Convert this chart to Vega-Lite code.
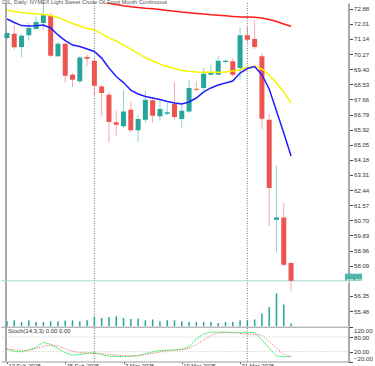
{
  "$schema": "https://vega.github.io/schema/vega-lite/v6.json",
  "width": 347.5,
  "height": 358.5,
  "padding": 0,
  "autosize": {"type": "pad"},
  "background": "white",
  "config": {"view": {"stroke": null}, "font": "Liberation Sans"},
  "title": {"text": "OIL, Daily:  NYMEX Light Sweet Crude Oil Front Month Continuous", "anchor": "start", "frame": "group", "orient": "top", "offset": -4, "fontSize": 5.6, "fontWeight": "normal", "color": "#555", "font": "Liberation Sans", "dx": 1},
  "datasets": {
    "bars": [
      {"i":0,"date":"2025-02-13","o":71.20,"h":71.60,"l":71.08,"c":71.48,"v":50000,"mb":72.29,"my":72.79,"mr":null,"k":32,"s":30},
      {"i":1,"date":"2025-02-14","o":71.44,"h":71.94,"l":70.50,"c":70.66,"v":60000,"mb":72.09,"my":72.72,"mr":null,"k":21,"s":28},
      {"i":2,"date":"2025-02-17","o":70.68,"h":71.42,"l":70.10,"c":71.33,"v":43000,"mb":71.91,"my":72.66,"mr":null,"k":20,"s":24},
      {"i":3,"date":"2025-02-18","o":71.35,"h":72.06,"l":71.04,"c":71.77,"v":60000,"mb":71.89,"my":72.62,"mr":null,"k":27,"s":26},
      {"i":4,"date":"2025-02-19","o":71.71,"h":72.44,"l":71.67,"c":72.12,"v":43000,"mb":71.90,"my":72.59,"mr":null,"k":38,"s":33},
      {"i":5,"date":"2025-02-20","o":72.06,"h":73.30,"l":71.67,"c":72.50,"v":43000,"mb":71.94,"my":72.55,"mr":null,"k":58,"s":42},
      {"i":6,"date":"2025-02-21","o":72.50,"h":72.63,"l":70.10,"c":70.18,"v":50000,"mb":71.77,"my":72.49,"mr":null,"k":50,"s":47},
      {"i":7,"date":"2025-02-24","o":70.14,"h":70.96,"l":70.10,"c":70.87,"v":50000,"mb":71.37,"my":72.38,"mr":null,"k":33,"s":43},
      {"i":8,"date":"2025-02-25","o":70.87,"h":70.94,"l":68.60,"c":69.02,"v":57000,"mb":71.05,"my":72.20,"mr":null,"k":16,"s":32},
      {"i":9,"date":"2025-02-26","o":69.08,"h":69.18,"l":68.37,"c":68.79,"v":60000,"mb":70.79,"my":72.03,"mr":null,"k":6,"s":22},
      {"i":10,"date":"2025-02-27","o":68.70,"h":70.16,"l":68.60,"c":70.08,"v":50000,"mb":70.71,"my":71.89,"mr":null,"k":9,"s":16},
      {"i":11,"date":"2025-02-28","o":70.10,"h":70.23,"l":69.58,"c":70.00,"v":60000,"mb":70.56,"my":71.74,"mr":null,"k":14,"s":14},
      {"i":12,"date":"2025-03-03","o":69.89,"h":69.99,"l":67.86,"c":68.45,"v":93000,"mb":70.42,"my":71.66,"mr":73.35,"k":16,"s":13},
      {"i":13,"date":"2025-03-04","o":68.41,"h":68.51,"l":66.72,"c":68.03,"v":83000,"mb":70.04,"my":71.43,"mr":73.27,"k":8,"s":12},
      {"i":14,"date":"2025-03-05","o":67.93,"h":68.09,"l":65.19,"c":66.36,"v":93000,"mb":69.47,"my":71.20,"mr":73.19,"k":2,"s":9},
      {"i":15,"date":"2025-03-06","o":66.34,"h":67.01,"l":65.54,"c":66.20,"v":100000,"mb":68.98,"my":71.02,"mr":73.12,"k":0,"s":6},
      {"i":16,"date":"2025-03-07","o":66.11,"h":68.18,"l":66.01,"c":66.97,"v":83000,"mb":68.63,"my":70.79,"mr":73.05,"k":0,"s":3},
      {"i":17,"date":"2025-03-10","o":67.07,"h":67.55,"l":65.78,"c":65.88,"v":73000,"mb":68.20,"my":70.56,"mr":72.99,"k":1,"s":3},
      {"i":18,"date":"2025-03-11","o":65.88,"h":66.76,"l":65.21,"c":66.53,"v":77000,"mb":67.97,"my":70.30,"mr":72.95,"k":4,"s":5},
      {"i":19,"date":"2025-03-12","o":66.49,"h":68.14,"l":66.30,"c":67.64,"v":60000,"mb":67.83,"my":70.07,"mr":72.91,"k":12,"s":8},
      {"i":20,"date":"2025-03-13","o":67.61,"h":67.74,"l":66.30,"c":66.72,"v":67000,"mb":67.74,"my":69.87,"mr":72.88,"k":19,"s":13},
      {"i":21,"date":"2025-03-14","o":66.69,"h":67.64,"l":66.47,"c":67.11,"v":50000,"mb":67.65,"my":69.70,"mr":72.83,"k":25,"s":19},
      {"i":22,"date":"2025-03-17","o":66.84,"h":67.45,"l":66.76,"c":66.92,"v":60000,"mb":67.54,"my":69.55,"mr":72.78,"k":26,"s":24},
      {"i":23,"date":"2025-03-18","o":67.41,"h":68.66,"l":66.47,"c":66.65,"v":60000,"mb":67.45,"my":69.44,"mr":72.74,"k":27,"s":26},
      {"i":24,"date":"2025-03-19","o":66.53,"h":67.36,"l":66.03,"c":67.01,"v":50000,"mb":67.40,"my":69.32,"mr":72.69,"k":30,"s":28},
      {"i":25,"date":"2025-03-20","o":66.97,"h":68.78,"l":66.88,"c":68.32,"v":43000,"mb":67.51,"my":69.28,"mr":72.65,"k":40,"s":33},
      {"i":26,"date":"2025-03-21","o":68.28,"h":68.70,"l":68.14,"c":68.22,"v":43000,"mb":67.74,"my":69.24,"mr":72.61,"k":72,"s":50},
      {"i":27,"date":"2025-03-24","o":68.32,"h":69.47,"l":68.20,"c":69.14,"v":43000,"mb":68.09,"my":69.22,"mr":72.57,"k":92,"s":68},
      {"i":28,"date":"2025-03-25","o":69.08,"h":69.66,"l":69.06,"c":69.18,"v":43000,"mb":68.32,"my":69.22,"mr":72.53,"k":100,"s":88},
      {"i":29,"date":"2025-03-26","o":69.08,"h":70.18,"l":69.06,"c":69.89,"v":33000,"mb":68.49,"my":69.22,"mr":72.50,"k":100,"s":97},
      {"i":30,"date":"2025-03-27","o":69.81,"h":69.96,"l":69.76,"c":69.89,"v":43000,"mb":68.60,"my":69.24,"mr":72.47,"k":100,"s":98},
      {"i":31,"date":"2025-03-28","o":69.85,"h":70.04,"l":68.98,"c":69.08,"v":43000,"mb":68.72,"my":69.30,"mr":72.44,"k":99,"s":97},
      {"i":32,"date":"2025-03-31","o":69.47,"h":71.81,"l":68.79,"c":71.35,"v":60000,"mb":69.18,"my":69.37,"mr":72.40,"k":99,"s":95},
      {"i":33,"date":"2025-04-01","o":71.35,"h":71.87,"l":70.96,"c":71.10,"v":60000,"mb":69.44,"my":69.50,"mr":72.40,"k":99,"s":92},
      {"i":34,"date":"2025-04-02","o":71.14,"h":72.21,"l":70.56,"c":70.68,"v":67000,"mb":69.55,"my":69.57,"mr":72.39,"k":98,"s":91},
      {"i":35,"date":"2025-04-03","o":70.14,"h":70.33,"l":65.96,"c":66.55,"v":127000,"mb":69.07,"my":69.41,"mr":72.35,"k":68,"s":88},
      {"i":36,"date":"2025-04-04","o":66.49,"h":66.82,"l":60.39,"c":62.56,"v":193000,"mb":68.26,"my":69.07,"mr":72.26,"k":35,"s":62},
      {"i":37,"date":"2025-04-07","o":60.73,"h":63.84,"l":58.86,"c":60.87,"v":327000,"mb":66.99,"my":68.60,"mr":72.14,"k":2,"s":35},
      {"i":38,"date":"2025-04-08","o":60.87,"h":61.70,"l":58.07,"c":58.14,"v":217000,"mb":65.73,"my":68.09,"mr":72.00,"k":0,"s":10},
      {"i":39,"date":"2025-04-09","o":58.24,"h":58.30,"l":56.61,"c":57.22,"v":27000,"mb":64.40,"my":67.45,"mr":71.87,"k":0,"s":0}
    ],
    "months": [{"i": 12, "month": "2025-03"}, {"i": 33, "month": "2025-04"}],
    "bid": [{"price": 57.22, "label": "57.22"}],
    "levels": [{"lvl": 80}, {"lvl": 20}],
    "stochInfo": [{"t": "Stoch(14,3,3) 0.00 0.00", "top": 120}]
  },
  "data": {"name": "bars"},
  "layer": [
    {
      "mark": {"type": "rule", "strokeWidth": 1, "opacity": 0.5, "clip": true},
      "encoding": {
        "x": {"field": "i", "type": "quantitative", "axis": {"values": [0, 8, 16, 24, 32], "labelExpr": "datum.value == 0 ? '13 Feb 2025' : datum.value == 8 ? '25 Feb 2025' : datum.value == 16 ? '7 Mar 2025' : datum.value == 24 ? '19 Mar 2025' : '31 Mar 2025'", "title": null, "grid": false, "domainColor": "#999", "domainWidth": 1, "tickColor": "#666", "tickSize": 2, "labelAlign": "left", "labelBaseline": "top", "labelPadding": -1, "labelOffset": 1, "labelFontSize": 5.8, "labelColor": "#333", "labelFlush": false, "labelOverlap": false}, "scale": {"domain": [-0.1333, 46.2], "nice": false, "zero": false}},
        "y": {"field": "l", "type": "quantitative", "scale": {"domain": [54.6, 73.21], "range": [323.3, 0], "nice": false, "zero": false}, "axis": {"orient": "right", "values": [72.88, 72.01, 71.14, 70.27, 69.40, 68.53, 67.66, 66.79, 65.92, 65.05, 64.18, 63.31, 62.44, 61.57, 60.70, 59.83, 58.96, 58.09, 56.35, 55.48], "format": ".2f", "title": null, "grid": false, "domainColor": "#a9a9a9", "domainWidth": 2, "tickColor": "#444", "tickSize": 4, "labelPadding": 1, "labelFontSize": 6.1, "labelColor": "#333", "labelOverlap": false, "labelFlush": false}},
        "y2": {"field": "h"},
        "color": {"condition": {"test": "datum.c >= datum.o", "value": "#26a69a"}, "value": "#ef5350"}
      }
    },
    {
      "data": {"name": "stochInfo"},
      "mark": {"type": "rule", "color": "#a9a9a9", "strokeWidth": 2},
      "encoding": {"x": {"datum": -0.1333}}
    },
    {
      "data": {"name": "months"},
      "mark": {"type": "rule", "color": "#777", "strokeWidth": 1, "strokeDash": [1, 1.5]},
      "encoding": {"x": {"field": "i", "type": "quantitative", "scale": {"domain": [-0.1333, 46.2], "nice": false, "zero": false}}}
    },
    {
      "data": {"name": "bid"},
      "mark": {"type": "rule", "color": "#9fdad3", "strokeWidth": 1},
      "encoding": {"y": {"field": "price", "type": "quantitative", "axis": null, "scale": {"domain": [54.6, 73.21], "range": [323.3, 0], "nice": false, "zero": false}}}
    },
    {
      "mark": {"type": "bar", "orient": "vertical", "size": 5, "clip": true},
      "encoding": {
        "x": {"field": "i", "type": "quantitative", "scale": {"domain": [-0.1333, 46.2], "nice": false, "zero": false}},
        "y": {"field": "o", "type": "quantitative", "axis": null, "scale": {"domain": [54.6, 73.21], "range": [323.3, 0], "nice": false, "zero": false}},
        "y2": {"field": "c"},
        "color": {"condition": {"test": "datum.c >= datum.o", "value": "#26a69a"}, "value": "#ef5350"}
      }
    },
    {
      "mark": {"type": "line", "color": "#ff1a1a", "strokeWidth": 1.5, "clip": true},
      "encoding": {
        "x": {"field": "i", "type": "quantitative", "scale": {"domain": [-0.1333, 46.2], "nice": false, "zero": false}},
        "y": {"field": "mr", "type": "quantitative", "axis": null, "scale": {"domain": [54.6, 73.21], "range": [323.3, 0], "nice": false, "zero": false}}
      }
    },
    {
      "mark": {"type": "line", "color": "#f5f500", "strokeWidth": 1.5, "clip": true},
      "encoding": {
        "x": {"field": "i", "type": "quantitative", "scale": {"domain": [-0.1333, 46.2], "nice": false, "zero": false}},
        "y": {"field": "my", "type": "quantitative", "axis": null, "scale": {"domain": [54.6, 73.21], "range": [323.3, 0], "nice": false, "zero": false}}
      }
    },
    {
      "mark": {"type": "line", "color": "#1f1fff", "strokeWidth": 1.5, "clip": true},
      "encoding": {
        "x": {"field": "i", "type": "quantitative", "scale": {"domain": [-0.1333, 46.2], "nice": false, "zero": false}},
        "y": {"field": "mb", "type": "quantitative", "axis": null, "scale": {"domain": [54.6, 73.21], "range": [323.3, 0], "nice": false, "zero": false}}
      }
    },
    {
      "mark": {"type": "bar", "orient": "vertical", "size": 1.5, "color": "#26a69a", "clip": true},
      "encoding": {
        "x": {"field": "i", "type": "quantitative", "scale": {"domain": [-0.1333, 46.2], "nice": false, "zero": false}},
        "y": {"field": "v", "type": "quantitative", "axis": null, "scale": {"domain": [0, 3233000], "range": [323.3, 0], "nice": false, "zero": true}}
      }
    },
    {
      "data": {"name": "bid"},
      "mark": {"type": "bar", "orient": "horizontal", "size": 7, "color": "#4fb5aa"},
      "encoding": {
        "x": {"datum": 46.4},
        "x2": {"datum": 48.75},
        "y": {"field": "price", "type": "quantitative", "axis": null, "scale": {"domain": [54.6, 73.21], "range": [323.3, 0], "nice": false, "zero": false}}
      }
    },
    {
      "data": {"name": "bid"},
      "mark": {"type": "text", "align": "left", "baseline": "middle", "fontSize": 6.1, "color": "white", "dx": 1.5},
      "encoding": {
        "x": {"datum": 46.4},
        "y": {"field": "price", "type": "quantitative", "axis": null, "scale": {"domain": [54.6, 73.21], "range": [323.3, 0], "nice": false, "zero": false}},
        "text": {"field": "label"}
      }
    },
    {
      "data": {"name": "stochInfo"},
      "mark": {"type": "rule", "color": "#999", "strokeWidth": 1},
      "encoding": {
        "y": {"field": "top", "type": "quantitative", "scale": {"domain": [-20, 120], "range": [358.5, 324.2], "nice": false, "zero": false}, "axis": {"orient": "right", "values": [120, 80, 20, -20], "format": ".2f", "title": null, "grid": false, "domainColor": "#a9a9a9", "domainWidth": 2, "tickColor": "#444", "tickSize": 4, "labelPadding": 1, "labelFontSize": 6.1, "labelColor": "#333", "labelFlush": true, "labelOverlap": false}}
      }
    },
    {
      "data": {"name": "levels"},
      "mark": {"type": "rule", "color": "#bbb", "strokeWidth": 1, "strokeDash": [1, 2]},
      "encoding": {"y": {"field": "lvl", "type": "quantitative", "axis": null, "scale": {"domain": [-20, 120], "range": [358.5, 324.2], "nice": false, "zero": false}}}
    },
    {
      "mark": {"type": "line", "color": "#66f28f", "strokeWidth": 1},
      "encoding": {
        "x": {"field": "i", "type": "quantitative", "scale": {"domain": [-0.1333, 46.2], "nice": false, "zero": false}},
        "y": {"field": "k", "type": "quantitative", "axis": null, "scale": {"domain": [-20, 120], "range": [358.5, 324.2], "nice": false, "zero": false}}
      }
    },
    {
      "mark": {"type": "line", "color": "#ff5a5a", "strokeWidth": 1, "strokeDash": [1, 1.5]},
      "encoding": {
        "x": {"field": "i", "type": "quantitative", "scale": {"domain": [-0.1333, 46.2], "nice": false, "zero": false}},
        "y": {"field": "s", "type": "quantitative", "axis": null, "scale": {"domain": [-20, 120], "range": [358.5, 324.2], "nice": false, "zero": false}}
      }
    },
    {
      "data": {"name": "stochInfo"},
      "mark": {"type": "text", "align": "left", "baseline": "middle", "fontSize": 6, "color": "#333", "dx": 1},
      "encoding": {
        "x": {"datum": 0},
        "y": {"datum": 106, "type": "quantitative", "axis": null, "scale": {"domain": [-20, 120], "range": [358.5, 324.2], "nice": false, "zero": false}},
        "text": {"field": "t"}
      }
    }
  ],
  "resolve": {"scale": {"y": "independent"}, "axis": {"y": "independent"}}
}
